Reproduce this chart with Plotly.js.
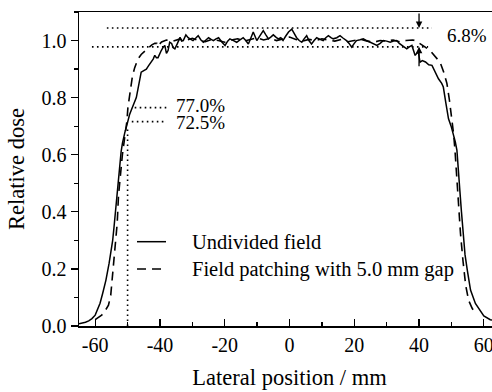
<!DOCTYPE html>
<html>
<head>
<meta charset="utf-8">
<script src="https://cdn.plot.ly/plotly-3.0.1.min.js"></script>
<style>
html,body{margin:0;padding:0;overflow:hidden;background:#fff;}
#chart{width:510px;height:392px;}
</style>
</head>
<body>
<div id="chart"></div>
<script>
// ---- Data ----
const undividedX = [-65,-64,-63,-62,-61,-60,-59.3,-58.5,-57.7,-56.7,-55.7,-55.1,-54.6,-54.2,-53.8,-53.4,-53.1,-52.7,-52.4,-52.0,-51.6,-51.2,-50.8,-50.3,-49.9,-49.4,-48.9,-48.1,-47.3,-46.8,-46.3,-45.8,-45.0,-44.2,-43.5,-42.7,-42.1,-41.6,-41.1,-40.6,-40.1,-39.6,-39.0,-38.5,-38.0,-37.5,-37.0,-36.4,-35.9,-35.4,-34.6,-33.8,-33.3,-32.8,-32.0,-31.3,-30.6,-29.8,-29.0,-28.2,-27.4,-26.6,-25.8,-25.0,-24.2,-23.5,-22.7,-21.9,-20.9,-19.9,-19.1,-18.4,-17.3,-16.3,-15.3,-14.3,-13.5,-12.7,-11.9,-11.2,-10.1,-9.1,-8.1,-7.3,-6.5,-5.8,-5.0,-4.2,-3.5,-2.7,-2.0,-1.2,-0.3,0.7,1.5,2.2,3.0,3.8,4.5,5.3,6.0,6.8,7.6,8.4,9.4,10.4,11.2,12.0,12.8,13.5,14.6,15.6,16.6,17.6,18.4,19.2,20.0,20.7,21.8,22.8,23.8,24.9,26.0,27.0,28.0,29.0,30.0,31.1,32.1,33.1,33.9,34.7,35.5,36.2,37.0,37.8,38.3,38.8,39.3,39.8,40.3,41.0,42.0,43.0,44.0,45.0,46.0,47.0,47.5,48.3,49.1,49.9,50.6,51.2,51.7,52.2,52.6,53.1,53.6,54.2,54.9,55.9,57.4,58.7,60.0,62.0,63.5,65.0];
const undividedY = [0.008,0.010,0.013,0.018,0.026,0.038,0.056,0.08,0.114,0.16,0.22,0.26,0.30,0.345,0.394,0.44,0.475,0.52,0.57,0.61,0.64,0.665,0.68,0.70,0.72,0.74,0.755,0.775,0.80,0.83,0.86,0.889,0.895,0.90,0.912,0.924,0.935,0.948,0.94,0.94,0.955,0.965,0.977,0.983,0.955,0.965,0.994,0.99,0.975,0.971,0.99,1.011,0.998,1.0,1.02,1.01,1.005,1.0,1.008,1.017,1.003,0.994,1.002,1.01,1.004,1.0,1.006,1.01,0.995,0.983,0.998,1.006,1.0,0.994,1.002,1.01,1.0,0.988,1.01,1.03,1.0,1.02,1.035,1.02,1.006,1.012,1.02,1.012,1.006,1.01,1.0,1.015,1.03,1.04,1.022,1.01,1.0,0.994,1.006,1.017,1.0,0.988,1.0,1.01,1.004,1.0,1.01,1.017,1.01,1.006,1.01,1.017,1.008,1.0,0.99,0.977,0.99,1.0,1.003,1.006,1.0,0.994,0.99,0.983,0.99,1.0,0.998,0.994,0.998,1.0,0.99,0.983,0.977,0.971,0.978,0.983,0.965,0.948,0.955,0.959,0.924,0.93,0.925,0.915,0.913,0.89,0.866,0.85,0.837,0.78,0.726,0.70,0.674,0.645,0.615,0.55,0.475,0.40,0.32,0.25,0.196,0.126,0.079,0.058,0.035,0.022,0.018,0.015];

const patchedX = [-60.0,-59.0,-58.0,-57.2,-56.5,-55.9,-55.2,-54.6,-53.9,-53.2,-52.8,-52.3,-51.6,-50.9,-50.2,-49.9,-49.2,-48.5,-47.8,-46.8,-45.8,-44.8,-43.6,-42.5,-41.6,-41.0,-40.8,-39.5,-38,-36,-34,-32,-30,-28,-26,-24,-22,-20,-18,-16,-14,-12,-10,-8,-6,-4,-2,0,2,4,6,8,10,12,14,16,18,20,22,24,26,28,30,32,34,36,38,38.8,40.3,41.8,43.4,45.0,46.5,47.6,48.6,49.4,50.1,50.7,51.1,51.5,52.0,52.8,53.6,54.4,55.3,56.4,57.4];
const patchedY = [0.022,0.03,0.038,0.048,0.06,0.073,0.108,0.18,0.26,0.36,0.458,0.53,0.60,0.66,0.718,0.765,0.83,0.875,0.905,0.935,0.951,0.962,0.975,0.985,0.99,0.99,0.98,0.995,1.002,0.998,1.005,1.0,1.008,1.0,0.996,1.004,1.0,0.994,1.002,1.006,0.998,1.004,1.01,1.002,1.008,1.0,1.006,1.012,1.004,0.998,1.004,1.0,1.006,1.002,0.998,1.004,0.996,1.0,1.004,0.998,0.994,1.0,0.998,1.002,0.996,1.0,1.002,1.0,0.99,0.978,0.965,0.945,0.924,0.89,0.85,0.79,0.73,0.67,0.615,0.54,0.44,0.324,0.225,0.143,0.09,0.062,0.044];

const seriesNames = ['Undivided field', 'Field patching with 5.0 mm gap'];

const xTickVals = [-60,-40,-20,0,20,40,60];
const xTickText = ['-60','-40','-20','0','20','40','60'];
const yTickVals = [0,0.2,0.4,0.6,0.8,1.0];
const yTickText = ['0.0','0.2','0.4','0.6','0.8','1.0'];

// reference (dotted) lines and labels
const flatLevels = [1.044, 0.978];
const flatStarts = [-56.4, -61.0];
const flatEnds = [44.0, 42.8];
const pctLevels = [0.765, 0.716];
const pctStarts = [-47.8, -48.7];
const pctEnd = -37.9;
const pctLabelX = -35.8;
const pctLabels = ['77.0%', '72.5%'];
const edgeMarkX = -50;
const edgeMarkTop = 0.69;
const arrowX = 40;
const arrowTails = [1.1, 0.905];
const gapLabel = '6.8%';
const gapLabelPos = [48.0, 1.017];

const FONT = "'Liberation Serif', 'Times New Roman', serif";

const traces = [
  {x: undividedX, y: undividedY, name: seriesNames[0], type: 'scatter', mode: 'lines',
   line: {color: '#000', width: 1.5}, showlegend: false},
  {x: patchedX, y: patchedY, name: seriesNames[1], type: 'scatter', mode: 'lines',
   line: {color: '#000', width: 1.6, dash: '9px,6px'}, showlegend: false}
];

const dotStyle = {color: '#000', width: 1.6, dash: '1.6px,3.4px'};
const shapes = [];
flatLevels.forEach((lv, i) => shapes.push({type: 'line', xref: 'x', yref: 'y', x0: flatStarts[i], x1: flatEnds[i], y0: lv, y1: lv, line: dotStyle}));
pctLevels.forEach((lv, i) => shapes.push({type: 'line', xref: 'x', yref: 'y', x0: pctStarts[i], x1: pctEnd, y0: lv, y1: lv, line: dotStyle}));
shapes.push({type: 'line', xref: 'x', yref: 'y', x0: edgeMarkX, x1: edgeMarkX, y0: 0, y1: edgeMarkTop, line: dotStyle});

// legend (drawn in paper coordinates, styled like the traces)
const legendX0 = 0.1378, legendX1 = 0.2067, legendTextX = 0.264;
const legendRows = [0.2685, 0.1815];
traces.forEach((t, i) => {
  shapes.push({type: 'line', xref: 'paper', yref: 'paper', x0: legendX0, x1: legendX1, y0: legendRows[i], y1: legendRows[i], line: t.line});
});

const annotations = [];
traces.forEach((t, i) => annotations.push({x: legendTextX, y: legendRows[i], xref: 'paper', yref: 'paper', text: t.name, showarrow: false, xanchor: 'left', yanchor: 'middle', font: {family: FONT, size: 20.5, color: '#000'}}));
const pctShift = [2, -1];
pctLevels.forEach((lv, i) => annotations.push({x: pctLabelX, y: lv, xref: 'x', yref: 'y', yshift: pctShift[i], text: pctLabels[i], showarrow: false, xanchor: 'left', yanchor: 'middle', font: {family: FONT, size: 19, color: '#000'}}));
annotations.push({x: gapLabelPos[0], y: gapLabelPos[1], xref: 'x', yref: 'y', text: gapLabel, showarrow: false, xanchor: 'left', yanchor: 'middle', font: {family: FONT, size: 19, color: '#000'}});
flatLevels.forEach((lv, i) => annotations.push({x: arrowX, y: lv, xref: 'x', yref: 'y', ax: arrowX, ay: arrowTails[i], axref: 'x', ayref: 'y', text: '', showarrow: true, arrowhead: 2, arrowsize: 1, arrowwidth: 1.3, arrowcolor: '#000', standoff: 0}));

const layout = {
  width: 510, height: 392,
  margin: {l: 79, r: 10, t: 12, b: 66},
  paper_bgcolor: '#fff', plot_bgcolor: '#fff',
  font: {family: FONT, size: 20, color: '#000'},
  showlegend: false,
  xaxis: {range: [-65, 65], tickmode: 'array', tickvals: xTickVals, ticktext: xTickText,
          ticks: 'inside', ticklen: 7, tickwidth: 1.3, tickcolor: '#000',
          minor: {tickmode: 'linear', tick0: 0, dtick: 10, ticks: 'inside', ticklen: 4, tickwidth: 1.3, tickcolor: '#000'},
          showline: true, linecolor: '#000', linewidth: 1.5, mirror: true, showgrid: false, zeroline: false,
          title: {text: 'Lateral position / mm', font: {family: FONT, size: 22.5, color: '#000'}, standoff: 14},
          tickfont: {family: FONT, size: 20, color: '#000'}},
  yaxis: {range: [0, 1.1], tickmode: 'array', tickvals: yTickVals, ticktext: yTickText,
          ticks: 'outside', ticklen: 7, tickwidth: 1.3, tickcolor: '#000',
          minor: {tickmode: 'linear', tick0: 0, dtick: 0.1, ticks: 'outside', ticklen: 4, tickwidth: 1.3, tickcolor: '#000'},
          showline: true, linecolor: '#000', linewidth: 1.5, mirror: true, showgrid: false, zeroline: false,
          title: {text: 'Relative dose', font: {family: FONT, size: 22.5, color: '#000'}},
          tickfont: {family: FONT, size: 20, color: '#000'}},
  shapes: shapes,
  annotations: annotations
};

Plotly.newPlot('chart', traces, layout, {displayModeBar: false, staticPlot: true});
</script>
</body>
</html>
